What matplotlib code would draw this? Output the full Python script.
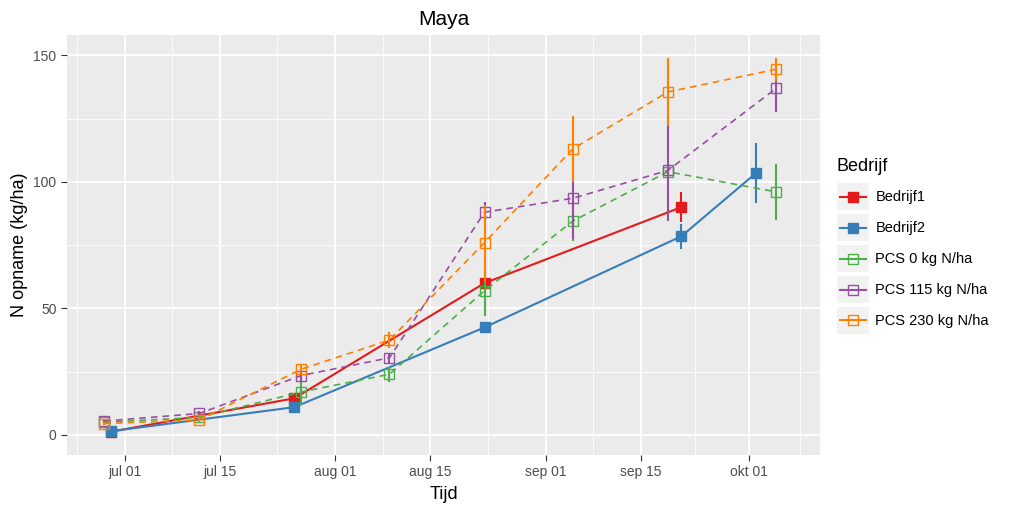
import numpy as np
import pandas as pd
import matplotlib
matplotlib.use("Agg")
import matplotlib.pyplot as plt
import matplotlib.dates as mdates
from matplotlib.patches import Rectangle
from matplotlib.lines import Line2D

plt.rcParams['font.family'] = ['Liberation Sans', 'DejaVu Sans']

# Bedrijf metingen
bedrijf_dates = ["2016-06-29", "2016-07-26", "2016-08-23", "2016-09-21"]
bedrijf1 = [1.3, 14.5, 60, 90]
bedrijf1_err = [0.5, 1.5, 2, 6]
bedrijf2_dates = ["2016-06-29", "2016-07-26", "2016-08-23", "2016-09-21", "2016-10-02"]
bedrijf2 = [1.5, 11, 42.5, 78.5, 103.5]
bedrijf2_err = [0.5, 1, 2, 5, 12]

# PCS proefvelden
pcs_dates = ["2016-06-28", "2016-07-12", "2016-07-27", "2016-08-09",
             "2016-08-23", "2016-09-05", "2016-09-19", "2016-10-05"]
pcs0 = [5, 7, 17, 24, 57, 84.5, 104, 96]
pcs0_err = [0.5, 1, 5, 3, 10, 8, 3, 11]
pcs115 = [5.5, 8.5, 23.5, 30.5, 88, 93.5, 104.5, 137]
pcs115_err = [0.5, 1, 2, 2, 4, 16, 20, 9.5]
pcs230 = [4.5, 6, 26, 37.5, 76, 113, 135.5, 144.5]
pcs230_err = [0.5, 1, 1.5, 3, 15, 13, 13.5, 4.5]

labels = ["Bedrijf1", "Bedrijf2", "PCS 0 kg N/ha", "PCS 115 kg N/ha", "PCS 230 kg N/ha"]
colors = ["#E41A1C", "#377EB8", "#4DAF4A", "#984EA3", "#FF7F00"]

series = [
    (bedrijf_dates, bedrijf1, bedrijf1_err),
    (bedrijf2_dates, bedrijf2, bedrijf2_err),
    (pcs_dates, pcs0, pcs0_err),
    (pcs_dates, pcs115, pcs115_err),
    (pcs_dates, pcs230, pcs230_err),
]


class KeyHandler:
    # ggplot-like legend key: grey box with line + square centred in it
    def legend_artist(self, legend, orig_handle, fontsize, handlebox):
        x0, y0 = handlebox.xdescent, handlebox.ydescent
        w, h = handlebox.width, handlebox.height
        tr = handlebox.get_transform()
        col, filled = orig_handle
        ym = -y0 + h / 2
        handlebox.add_artist(Rectangle((-x0, -y0), w, h, fc="#F2F2F2", ec="none", transform=tr))
        handlebox.add_artist(Line2D([-x0 + 2, -x0 + w - 2], [ym, ym], color=col, lw=1.5, transform=tr))
        handlebox.add_artist(Line2D([-x0 + w / 2], [ym], marker="s", ls="none",
                                    ms=6.5 if filled else 7, mfc=col if filled else "none",
                                    mec=col, mew=1.0, transform=tr))
        return handlebox


fig = plt.figure(figsize=(10.24, 5.12), dpi=100)
ax = fig.add_axes([67 / 1024, 57 / 512, 753 / 1024, 420 / 512])
ax.set_facecolor("#EBEBEB")

for i, (d, y, e) in enumerate(series):
    x = pd.to_datetime(d)
    y = np.array(y)
    e = np.array(e)
    pcs = i >= 2
    ax.vlines(x, y - e, y + e, color=colors[i], lw=1.5, zorder=3 + i)
    ax.plot(x, y, color=colors[i], lw=1.5 if not pcs else 1.2,
            ls=(0, (4, 3)) if pcs else "-", zorder=3 + i)
    if pcs:
        ax.plot(x, y, ls="none", marker="s", ms=7.5, mfc="none",
                mec=colors[i], mew=1.0, zorder=3 + i)
    else:
        ax.plot(x, y, ls="none", marker="s", ms=6.5, color=colors[i], zorder=3 + i)

ax.set_xlim(pd.Timestamp("2016-06-22 12:00"), pd.Timestamp("2016-10-11 10:00"))
ax.set_ylim(-7.9, 158)

major = pd.to_datetime(["2016-07-01", "2016-07-15", "2016-08-01", "2016-08-15",
                        "2016-09-01", "2016-09-15", "2016-10-01"])
ax.set_xticks(major)
ax.set_xticklabels(["jul 01", "jul 15", "aug 01", "aug 15", "sep 01", "sep 15", "okt 01"])
mnum = mdates.date2num(major)
minor = list((mnum[:-1] + mnum[1:]) / 2) + [mnum[0] - 7, mnum[-1] + 7.5]
ax.set_xticks(minor, minor=True)
ax.set_yticks([0, 50, 100, 150])
ax.set_yticks([25, 75, 125], minor=True)

ax.grid(which="major", color="white", lw=1.3)
ax.grid(which="minor", color="white", lw=0.6)
ax.set_axisbelow(True)
for s in ax.spines.values():
    s.set_visible(False)
ax.tick_params(which="major", length=4, color="#333333", labelsize=10, labelcolor="#4D4D4D")
ax.tick_params(which="minor", length=0)

ax.set_xlabel("Tijd", fontsize=13, labelpad=5)
ax.set_ylabel("N opname (kg/ha)", fontsize=13, labelpad=4)
ax.set_title("Maya", fontsize=15, pad=7)

keys = [(colors[i], i < 2) for i in range(len(labels))]
leg = fig.legend(keys, labels, title="Bedrijf", loc="upper left",
                 handler_map={tuple: KeyHandler()},
                 bbox_to_anchor=(831 / 1024, 1 - 152 / 512), frameon=False,
                 fontsize=10.5, title_fontsize=13, handlelength=2.2,
                 handleheight=2.5, labelspacing=0.25, handletextpad=0.45,
                 borderaxespad=0)
leg._legend_box.align = "left"
leg._legend_box.sep = 6

fig.savefig("out.png", dpi=100)
